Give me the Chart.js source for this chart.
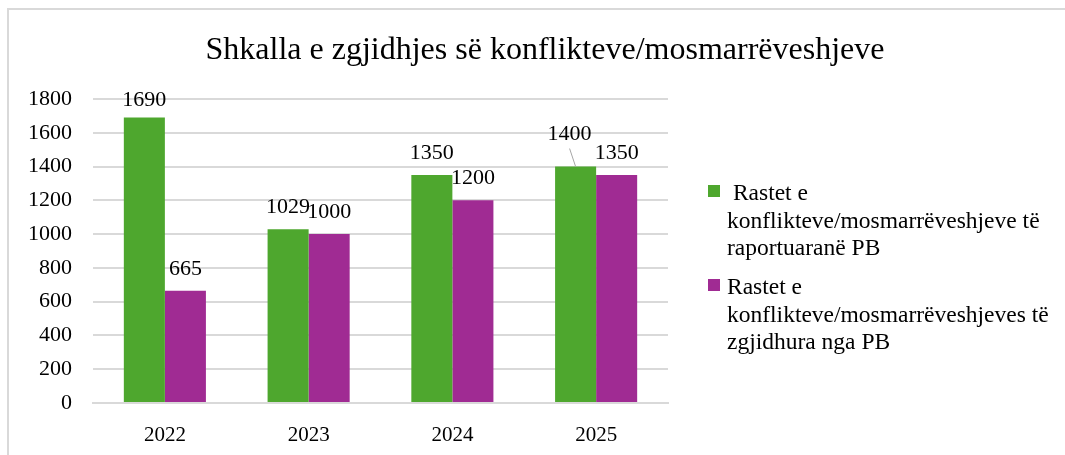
<!DOCTYPE html>
<html>
<head>
<meta charset="utf-8">
<script src="https://cdn.jsdelivr.net/npm/chart.js@4.4.1/dist/chart.umd.min.js"></script>
<style>
    body { margin: 0; background: #fff; }
    #wrap { position: relative; width: 1065px; height: 455px; overflow: hidden; font-family: "Liberation Serif", "Times New Roman", serif; }
    #frame { position: absolute; left: 7px; top: 8px; width: 1200px; height: 600px; border-left: 2px solid #d9d9d9; border-top: 2px solid #d9d9d9; }
    #chart { position: absolute; left: 0; top: 0; }
    #legend { position: absolute; left: 708px; top: 179px; width: 352px; font-size: 23.5px; line-height: 27.5px; color: #000; }
    .item { padding-left: 19px; text-indent: -19px; white-space: pre-wrap; }
    .item + .item { margin-top: 11.5px; }
    .box { display: inline-block; width: 12px; height: 12px; margin-right: 7px; text-indent: 0; vertical-align: 3px; }
</style>
</head>
<body>
<div id="wrap">
    <div id="frame"></div>
    <canvas id="chart" width="1065" height="455"></canvas>
    <div id="legend"></div>
</div>
<script>
const chartTitle = 'Shkalla e zgjidhjes së konflikteve/mosmarrëveshjeve';
const years = ['2022', '2023', '2024', '2025'];
const reported = [1690, 1029, 1350, 1400];
const resolved = [665, 1000, 1200, 1350];
const seriesNames = [
    ' Rastet e konflikteve/mosmarrëveshjeve të raportuaranë PB',
    'Rastet e konflikteve/mosmarrëveshjeves të zgjidhura nga PB'
];
const yTicks = [0, 200, 400, 600, 800, 1000, 1200, 1400, 1600, 1800];

const GREEN = '#4ea72e';
const PURPLE = '#a02b93';
const FONT = '"Liberation Serif", "Times New Roman", serif';

// a couple of labels were moved by hand in the original
const labelNudge = {
    '0-0': { dx: 0, dy: 4 },
    '0-3': { dx: -6, dy: -11, leader: true }
};

const titlePlugin = {
    id: 'sheetTitle',
    afterDraw(chart) {
        const c = chart.ctx;
        c.save();
        c.font = '32px ' + FONT;
        c.fillStyle = '#000';
        c.textAlign = 'center';
        c.textBaseline = 'alphabetic';
        c.fillText(chartTitle, 545, 59);
        c.restore();
    }
};

const valueLabels = {
    id: 'valueLabels',
    afterDatasetsDraw(chart) {
        const c = chart.ctx;
        c.save();
        c.font = '22px ' + FONT;
        c.fillStyle = '#000';
        c.textAlign = 'center';
        c.textBaseline = 'alphabetic';
        chart.data.datasets.forEach((ds, di) => {
            chart.getDatasetMeta(di).data.forEach((bar, i) => {
                const n = labelNudge[di + '-' + i] || { dx: 0, dy: 0 };
                const x = bar.x + n.dx;
                const y = bar.y - 16 + n.dy;
                if (n.leader) {
                    c.strokeStyle = '#a6a6a6';
                    c.lineWidth = 1;
                    c.beginPath();
                    c.moveTo(x, y + 9);
                    c.lineTo(bar.x, bar.y);
                    c.stroke();
                }
                c.fillText(String(ds.data[i]), x, y);
            });
        });
        c.restore();
    }
};

new Chart(document.getElementById('chart'), {
    type: 'bar',
    data: {
        labels: years,
        datasets: [
            { label: seriesNames[0], data: reported, backgroundColor: GREEN },
            { label: seriesNames[1], data: resolved, backgroundColor: PURPLE }
        ]
    },
    options: {
        responsive: false,
        animation: false,
        layout: { padding: { left: 0, top: 99, right: 397, bottom: 0 } },
        datasets: { bar: { categoryPercentage: 0.571, barPercentage: 1 } },
        plugins: { legend: { display: false }, tooltip: { enabled: false } },
        scales: {
            x: {
                grid: { display: false, drawTicks: false },
                border: { display: true, color: '#d9d9d9', width: 2 },
                ticks: { color: '#000', font: { family: FONT, size: 21 }, padding: 20 },
                afterFit(scale) { scale.height = 52; }
            },
            y: {
                min: 0,
                max: 1800,
                afterBuildTicks(scale) { scale.ticks = yTicks.map(v => ({ value: v })); },
                grid: { color: '#d9d9d9', lineWidth: 2, drawTicks: false },
                border: { display: false },
                ticks: {
                    color: '#000',
                    font: { family: FONT, size: 22 },
                    padding: 21,
                    callback: v => String(v)
                },
                afterFit(scale) { scale.width = 93; }
            }
        }
    },
    plugins: [titlePlugin, valueLabels]
});

// legend with wrapped text, like the original
const legend = document.getElementById('legend');
[GREEN, PURPLE].forEach((col, i) => {
    const item = document.createElement('div');
    item.className = 'item';
    const box = document.createElement('span');
    box.className = 'box';
    box.style.background = col;
    item.appendChild(box);
    item.appendChild(document.createTextNode(seriesNames[i]));
    legend.appendChild(item);
});
</script>
</body>
</html>
